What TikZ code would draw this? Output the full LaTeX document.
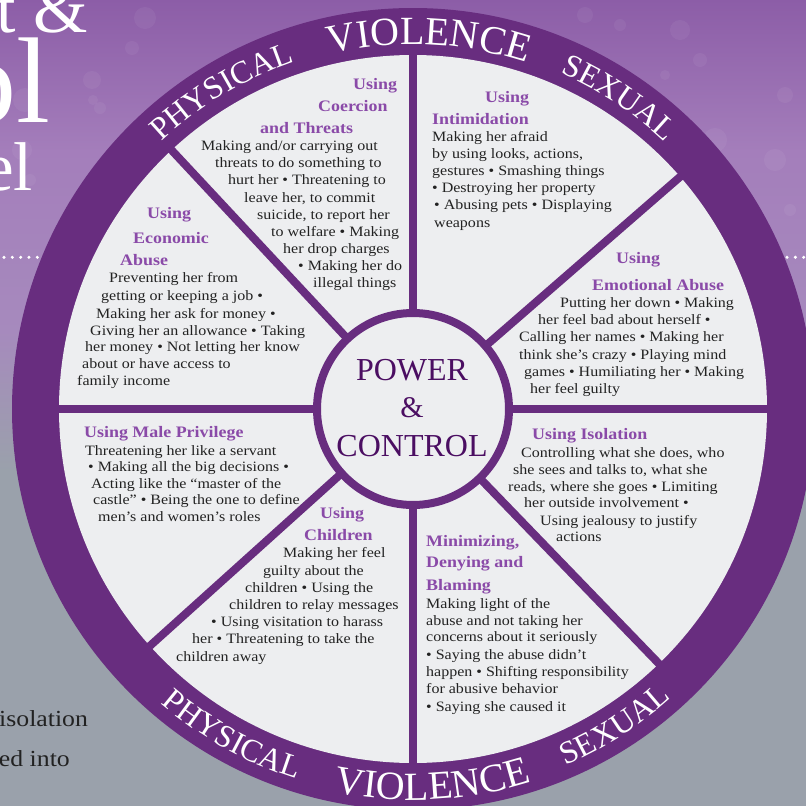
\documentclass[tikz,border=0pt]{standalone}
\usepackage{fontspec}
\setmainfont{Liberation Serif}
\newfontfamily\bodyfont[FakeStretch=1.12]{Liberation Serif}
\usetikzlibrary{decorations.text}

\definecolor{ringc}{HTML}{682D7F}
\definecolor{wheelbg}{HTML}{EDEEF0}
\definecolor{headc}{HTML}{8A4AA8}
\definecolor{bodyc}{HTML}{222222}
\definecolor{hubc}{HTML}{4B0E62}
\definecolor{bgtop}{HTML}{8C5DA7}
\definecolor{bgmid}{HTML}{A47EBB}
\definecolor{bglow}{HTML}{A68ABD}
\definecolor{bggray}{HTML}{9AA1AB}

\tikzset{
  bd/.style={font=\bodyfont\fontsize{14.3}{17}\selectfont, text=bodyc, inner sep=0pt, anchor=base west},
  hd/.style={font=\bodyfont\bfseries\fontsize{16}{19}\selectfont, text=headc, inner sep=0pt, anchor=base west},
  hubtext/.style={font=\fontsize{32}{32}\selectfont, text=hubc, inner sep=0pt, anchor=base},
  titletext/.style={text=white, inner sep=0pt, anchor=base east},
  spoke/.style={ringc, line width=8pt},
}

% one node per printed line: name, style, list of x/baseline/text
\newcommand{\wheellines}[3]{%
  \foreach [count=\i] \lnx/\lny/\lnt in {#3} {\node[#2] (#1-\i) at (\lnx,-\lny) {\lnt};}}

% a word set on an arc of the outer ring
\newcommand{\ringword}[5]{% size, start angle, end angle, radius, word
  \path[decorate, decoration={text along path, text color=white, text align=center,
      text={|\fontsize{#1}{#1}\selectfont|#5}}]
    (#2:#4) arc[start angle=#2, end angle=#3, radius=#4];}

\begin{document}
\begin{tikzpicture}[x=1pt,y=1pt]
\useasboundingbox (0,0) rectangle (806,-806);
\clip (0,0) rectangle (806,-806);

% backdrop
\shade[top color=bgtop, bottom color=bgmid] (0,1) rectangle (806,-152);
\shade[top color=bgmid, bottom color=bglow] (0,-150) rectangle (806,-332);
\shade[top color=bglow, bottom color=bggray] (0,-330) rectangle (806,-472);
\fill[bggray] (0,-470) rectangle (806,-807);

% faint splatter
\foreach \sx/\sy/\sr in {145/18/11, 132/48/7, 92/80/9, 100/108/6, 93/100/5, 25/100/12,
    22/150/10, 30/180/6, 680/30/10, 700/60/7, 665/75/5, 715/140/12, 735/195/9, 785/95/8,
    775/160/11, 790/210/6, 760/255/5, 620/25/6, 585/15/8}
  \fill[white, opacity=0.05] (\sx,-\sy) circle (\sr);

% title behind the wheel
\node[titletext, font=\fontsize{70}{70}\selectfont] (title1) at (88,-32) {t \&};
\node[titletext, font=\fontsize{122}{122}\selectfont] (title2) at (51,-122) {ol};
\node[titletext, font=\fontsize{69}{69}\selectfont] (title3) at (33,-190) {el};

% dotted rule
\foreach \k in {0,...,96} \fill[white] (4+8.33*\k,-257.3) circle (1.7);

% side text
\node[font=\bodyfont\fontsize{23}{23}\selectfont, text=bodyc, inner sep=0pt, anchor=base west] (side1) at (-1,-726.7) {isolation};
\node[font=\bodyfont\fontsize{23}{23}\selectfont, text=bodyc, inner sep=0pt, anchor=base east] (side2) at (70,-766.7) {ed into};

% the wheel
\begin{scope}[shift={(413,-409)}]
  \fill[ringc] (0,0) circle (401);
  \fill[wheelbg] (0,0) circle (354);
  \foreach \a in {0,41,90,133,180,222,270,314}
    \draw[spoke] (\a:90) -- (\a:357);
  \node[circle, draw=ringc, line width=8pt, fill=wheelbg, minimum size=192pt, inner sep=0pt] (hub) at (0,0) {};

  \ringword{32}{146}{96}{367}{PHYSICAL}
  \ringword{40}{110}{65}{364.5}{VIOLENCE}
  \ringword{32}{80}{33}{367}{SEXUAL}
  \ringword{32}{216}{266}{388}{PHYSICAL}
  \ringword{40}{250}{296}{391}{VIOLENCE}
  \ringword{32}{280}{325}{388}{SEXUAL}
\end{scope}

% hub
\node[hubtext] (power) at (412,-380) {POWER};
\node[hubtext, font=\fontsize{30}{30}\selectfont] (and) at (412,-417) {\&};
\node[hubtext] (control) at (412,-456) {CONTROL};

% coercion and threats
\wheellines{coh}{hd}{353/89/{Using}, 318/111/{Coercion}, 260/133/{and Threats}}
\wheellines{cob}{bd}{201/150.7/{Making and/or carrying out}, 215/167.8/{threats to do something to},
  228/184.9/{hurt her • Threatening to}, 244/202/{leave her, to commit},
  257/219.1/{suicide, to report her}, 271/236.2/{to welfare • Making},
  283/253.3/{her drop charges}, 298/270.4/{• Making her do}, 313/287.5/{illegal things}}

% intimidation
\wheellines{inh}{hd}{485/102.7/{Using}, 432/124/{Intimidation}}
\wheellines{inb}{bd}{432/141/{Making her afraid}, 432/158.2/{by using looks, actions,},
  432/175.4/{gestures • Smashing things}, 432/192.6/{• Destroying her property},
  434/209.8/{• Abusing pets • Displaying}, 434/227/{weapons}}

% emotional abuse
\wheellines{emh}{hd}{616/263.3/{Using}, 592/290.7/{Emotional Abuse}}
\wheellines{emb}{bd}{560/307.5/{Putting her down • Making}, 538/324.7/{her feel bad about herself •},
  519/341.9/{Calling her names • Making her}, 519/359.1/{think she’s crazy • Playing mind},
  524/376.3/{games • Humiliating her • Making}, 530/393.5/{her feel guilty}}

% economic abuse
\wheellines{ech}{hd}{147/218.3/{Using}, 133/243.3/{Economic}, 120/265/{Abuse}}
\wheellines{ecb}{bd}{109/282/{Preventing her from}, 101/300/{getting or keeping a job •},
  96/318.3/{Making her ask for money •}, 90/335/{Giving her an allowance • Taking},
  85/351.7/{her money • Not letting her know}, 82/368.3/{about or have access to},
  77/385/{family income}}

% male privilege
\wheellines{mph}{hd}{84/437.7/{Using Male Privilege}}
\wheellines{mpb}{bd}{85/455/{Threatening her like a servant}, 88/471.5/{• Making all the big decisions •},
  91/488/{Acting like the “master of the}, 93/504.5/{castle” • Being the one to define},
  98/521/{men’s and women’s roles}}

% isolation
\wheellines{ish}{hd}{532/439.3/{Using Isolation}}
\wheellines{isb}{bd}{521/457.7/{Controlling what she does, who}, 513/474.3/{she sees and talks to, what she},
  508/491/{reads, where she goes • Limiting}, 524/507.7/{her outside involvement •},
  540/525/{Using jealousy to justify}, 556/541.7/{actions}}

% children
\wheellines{chh}{hd}{320/518.3/{Using}, 304/540/{Children}}
\wheellines{chb}{bd}{283/557/{Making her feel}, 263/575/{guilty about the},
  245/592.7/{children • Using the}, 229/609.3/{children to relay messages},
  211/626/{• Using visitation to harass}, 192/643.3/{her • Threatening to take the},
  176/661/{children away}}

% minimizing, denying and blaming
\wheellines{mih}{hd}{426/546.5/{Minimizing,}, 426/567.3/{Denying and}, 426/590/{Blaming}}
\wheellines{mib}{bd}{426/608.3/{Making light of the}, 426/625/{abuse and not taking her},
  426/641.7/{concerns about it seriously}, 426/659.3/{• Saying the abuse didn’t},
  426/676.7/{happen • Shifting responsibility}, 426/693.3/{for abusive behavior},
  426/711/{• Saying she caused it}}
\end{tikzpicture}
\end{document}
